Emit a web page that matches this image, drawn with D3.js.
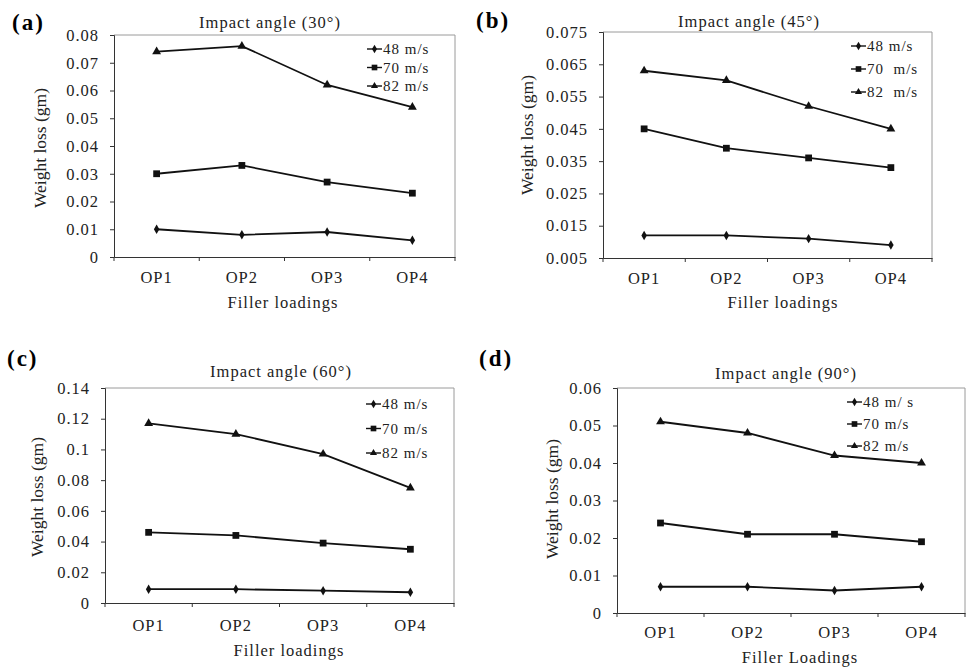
<!DOCTYPE html>
<html>
<head>
<meta charset="utf-8">
<script src="https://cdn.jsdelivr.net/npm/d3@7"></script>
<style>
  body { margin: 0; background: #fff; }
  svg text { font-family: "Liberation Serif", "Times New Roman", "DejaVu Serif", serif; fill: #222; }
</style>
</head>
<body>
<div id="chart"></div>
<script>
// data
const categories = ['OP1', 'OP2', 'OP3', 'OP4'];
const speeds = ['48 m/s', '70 m/s', '82 m/s'];

const angle30 = [
  [0.010, 0.008, 0.009, 0.006],
  [0.030, 0.033, 0.027, 0.023],
  [0.074, 0.076, 0.062, 0.054]
];
const angle45 = [
  [0.012, 0.012, 0.011, 0.009],
  [0.045, 0.039, 0.036, 0.033],
  [0.063, 0.060, 0.052, 0.045]
];
const angle60 = [
  [0.009, 0.009, 0.008, 0.007],
  [0.046, 0.044, 0.039, 0.035],
  [0.117, 0.110, 0.097, 0.075]
];
const angle90 = [
  [0.007, 0.007, 0.006, 0.007],
  [0.024, 0.021, 0.021, 0.019],
  [0.051, 0.048, 0.042, 0.040]
];

const ticks30 = [0, 0.01, 0.02, 0.03, 0.04, 0.05, 0.06, 0.07, 0.08];
const ticks45 = [0.005, 0.015, 0.025, 0.035, 0.045, 0.055, 0.065, 0.075];
const ticks60 = [0, 0.02, 0.04, 0.06, 0.08, 0.1, 0.12, 0.14];
const ticks90 = [0, 0.01, 0.02, 0.03, 0.04, 0.05, 0.06];

// const
const width = 967;
const height = 668;

const panels = [
  { tag: '(a)', title: 'Impact angle (30°)', data: angle30, ticks: ticks30, fmt: d3.format('.2~f'),
    xlabel: 'Filler loadings', legend: ['48 m/s', '70 m/s', '82 m/s'],
    box: { l: 114, r: 455, t: 35, b: 257 }, tagPos: [12, 30], titlePos: [270, 28], ylab: [46, 148],
    legendPos: [367, 49, 18.5], catPad: 14, xlab: [283, 308] },
  { tag: '(b)', title: 'Impact angle (45°)', data: angle45, ticks: ticks45, fmt: d3.format('.3f'),
    xlabel: 'Filler loadings', legend: ['48 m/s', '70  m/s', '82  m/s'],
    box: { l: 603, r: 932, t: 32, b: 258 }, tagPos: [476, 28], titlePos: [749, 27], ylab: [533, 135],
    legendPos: [851, 46, 23], catPad: 14, xlab: [783, 308] },
  { tag: '(c)', title: 'Impact angle (60°)', data: angle60, ticks: ticks60, fmt: d3.format('~g'),
    xlabel: 'Filler loadings', legend: ['48 m/s', '70 m/s', '82 m/s'],
    box: { l: 105, r: 454, t: 388, b: 603 }, tagPos: [7, 366], titlePos: [281, 377], ylab: [43, 497],
    legendPos: [366, 404, 24.5], catPad: 16, xlab: [289, 656] },
  { tag: '(d)', title: 'Impact angle (90°)', data: angle90, ticks: ticks90, fmt: d3.format('.2~f'),
    xlabel: 'Filler Loadings', legend: ['48 m/ s', '70 m/s', '82 m/s'],
    box: { l: 617, r: 965, t: 388, b: 613 }, tagPos: [479, 366], titlePos: [786, 379], ylab: [558, 499],
    legendPos: [847, 402, 22], catPad: 13, xlab: [800, 663] }
];

const shapes = [d3.symbolDiamond, d3.symbolSquare, d3.symbolTriangle];
const markerSize = [26, 46, 34];

// svg
const svg = d3.select('#chart')
  .append('svg')
  .attr('width', width)
  .attr('height', height);

panels.forEach(p => {
  const g = svg.append('g');
  const b = p.box;

  // x axis
  const x = d3.scaleBand()
    .domain(categories)
    .range([b.l, b.r])
    .padding(0);

  // y axis
  const y = d3.scaleLinear()
    .domain(d3.extent(p.ticks))
    .range([b.b, b.t]);

  // plot frame (top and right in grey)
  g.append('path')
    .attr('d', `M${b.l},${b.t}H${b.r}V${b.b}`)
    .attr('fill', 'none')
    .attr('stroke', '#9a9a9a')
    .attr('stroke-width', 1);

  g.append('g')
    .attr('transform', `translate(${b.l},0)`)
    .call(d3.axisLeft(y).tickValues(p.ticks).tickFormat(p.fmt).tickSize(4).tickPadding(11))
    .call(a => a.selectAll('text').attr('font-size', 16.5).attr('letter-spacing', 1).attr('fill', '#333'))
    .call(a => a.selectAll('line, path').attr('stroke', '#333'));

  const xa = g.append('g')
    .attr('transform', `translate(0,${b.b})`)
    .call(d3.axisBottom(x).tickSize(0).tickPadding(p.catPad))
    .call(a => a.selectAll('text').attr('font-size', 16.5).attr('letter-spacing', 1).attr('fill', '#333'))
    .call(a => a.select('.domain').attr('stroke', '#333'));

  // boundary ticks between categories
  const bounds = categories.map(c => x(c)).concat([x.range()[1]]);
  xa.selectAll('.bt')
    .data(bounds)
    .join('line')
    .attr('class', 'bt')
    .attr('x1', d => d).attr('x2', d => d)
    .attr('y1', 0).attr('y2', 4)
    .attr('stroke', '#333');

  // lines + markers
  const cx = i => x(categories[i]) + x.bandwidth() / 2;
  const line = d3.line()
    .x((d, i) => cx(i))
    .y(d => y(d));

  p.data.forEach((series, si) => {
    g.append('path')
      .datum(series)
      .attr('d', line)
      .attr('fill', 'none')
      .attr('stroke', '#111')
      .attr('stroke-width', 1.8);
    g.selectAll(null)
      .data(series)
      .join('path')
      .attr('transform', (d, i) => `translate(${cx(i)},${y(d)})`)
      .attr('d', d3.symbol().type(shapes[si]).size(markerSize[si]))
      .attr('fill', '#111');
  });

  // legend
  const [lx, ly, ldy] = p.legendPos;
  p.legend.forEach((name, si) => {
    const yy = ly + si * ldy;
    g.append('line')
      .attr('x1', lx).attr('x2', lx + 15)
      .attr('y1', yy).attr('y2', yy)
      .attr('stroke', '#111').attr('stroke-width', 1.4);
    g.append('path')
      .attr('transform', `translate(${lx + 7.5},${yy})`)
      .attr('d', d3.symbol().type(shapes[si]).size(si === 1 ? 32 : 22))
      .attr('fill', '#111');
    g.append('text')
      .attr('x', lx + 16)
      .attr('y', yy + 5)
      .attr('font-size', 15)
      .attr('letter-spacing', 1)
      .style('white-space', 'pre')
      .text(name);
  });

  // titles and labels
  g.append('text')
    .attr('x', p.titlePos[0])
    .attr('y', p.titlePos[1])
    .attr('text-anchor', 'middle')
    .attr('font-size', 16.5)
    .attr('letter-spacing', 1)
    .text(p.title);

  g.append('text')
    .attr('x', p.tagPos[0])
    .attr('y', p.tagPos[1])
    .attr('font-size', 23)
    .attr('font-weight', 'bold')
    .attr('letter-spacing', 2)
    .style('fill', '#000')
    .text(p.tag);

  g.append('text')
    .attr('transform', `translate(${p.ylab[0]},${p.ylab[1]}) rotate(-90)`)
    .attr('text-anchor', 'middle')
    .attr('font-size', 17.5)
    .text('Weight loss (gm)');

  g.append('text')
    .attr('x', p.xlab[0])
    .attr('y', p.xlab[1])
    .attr('text-anchor', 'middle')
    .attr('font-size', 16.5)
    .attr('letter-spacing', 1)
    .text(p.xlabel);
});
</script>
</body>
</html>
